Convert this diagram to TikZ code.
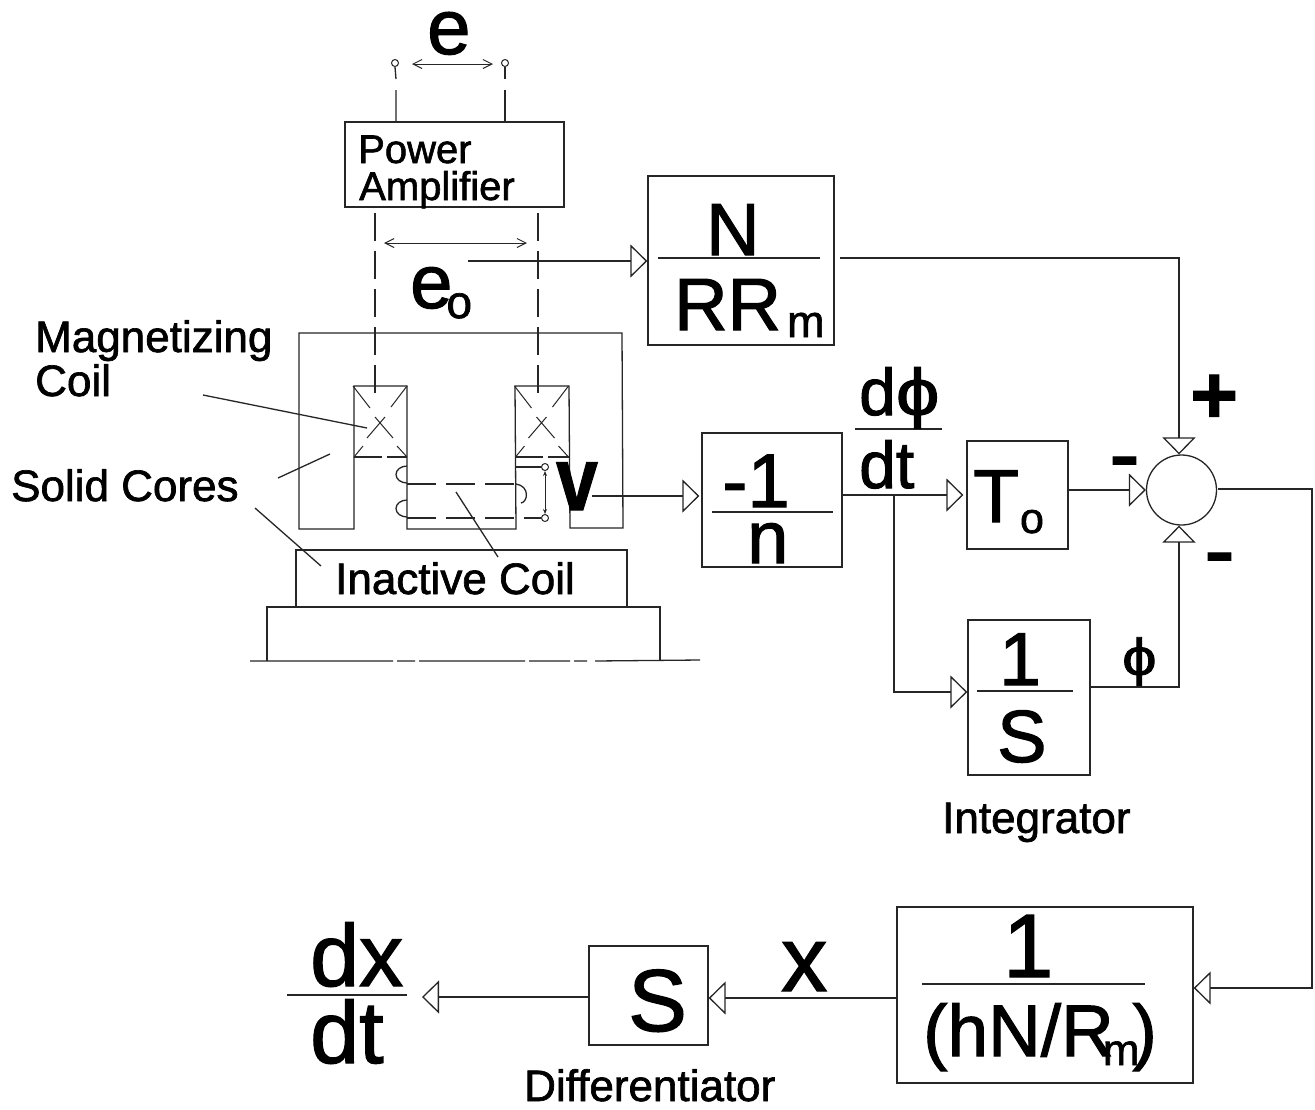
\documentclass[tikz,border=0pt]{standalone}
\usepackage{fontspec}
\setmainfont{Liberation Sans}[FakeBold=1.5]
\usetikzlibrary{arrows.meta}
\newcommand{\fz}[1]{\fontsize{#1}{#1}\selectfont}
\newcommand{\wphi}{\scalebox{1.18}[1]{ϕ}}
\tikzset{
  line/.style={line width=1.3pt,black!85},
  box/.style={line,draw,inner sep=0pt},
  conn/.style={line,-{Triangle[open,length=17pt,width=33pt,fill=white]}},
  dbl/.style={line width=1pt,black!85,{Straight Barb[length=9pt,width=9pt]}-{Straight Barb[length=9pt,width=9pt]}},
  dash1/.style={line,dash pattern=on 28pt off 10pt},
  dash2/.style={line,dash pattern=on 29pt off 10pt},
  dash3/.style={line,dash pattern=on 28pt off 5pt},
  term/.style={circle,draw,line width=1pt,black!85,inner sep=0pt,minimum size=7pt},
  txt/.style={inner sep=0pt,anchor=base west,text=black},
  lab/.style={txt,font=\fz{44}},
  big/.style={txt,font=\fz{74}},
  bar/.style={line}
}
\begin{document}
\begin{tikzpicture}[x=1pt,y=-1pt]
\useasboundingbox (0,0) rectangle (1315,1109);
\fill[white] (0,0) rectangle (1315,1109);
% blocks
\node[box,minimum width=219pt,minimum height=85pt] (pa) at (454.5,164.5) {};
\node[box,minimum width=186pt,minimum height=169pt] (nrr) at (741,260.5) {};
\node[box,minimum width=140pt,minimum height=134pt] (neg) at (772,500) {};
\node[box,minimum width=101pt,minimum height=108pt] (to) at (1017.5,495) {};
\node[box,minimum width=122pt,minimum height=155pt] (int) at (1029,697.5) {};
\node[box,minimum width=296pt,minimum height=176pt] (hn) at (1045,995) {};
\node[box,minimum width=119pt,minimum height=99pt] (sb) at (648.5,995.5) {};
\node[box,circle,minimum size=70pt] (sum) at (1181.5,490) {};
% fraction bars
\draw[bar] (658,258) -- (820,258);
\draw[bar] (712,512) -- (833,512);
\draw[bar] (977,691) -- (1073,691);
\draw[bar] (922,984) -- (1145,984);
\draw[bar] (855,429) -- (942,429);
\draw[bar] (287,995) -- (407,995);
% free-end coordinates
\coordinate (eoS) at (468,261);
\coordinate (vS) at (592,496);
\coordinate (dxE) at (422,997);
\coordinate (jn) at (894,495);
\coordinate (nS) at (840,258);
\coordinate (sumS) at (1218,489);
\coordinate (sumC) at (1312,489);
% connectors
\draw[conn] (eoS) -- (nrr.west |- eoS);
\draw[conn] (nS) -| (sum.94);
\draw[conn] (vS) -- ([xshift=-2pt]neg.west |- vS);
\draw[conn] (neg.east |- jn) -- ([xshift=-3pt]to.west |- jn);
\draw[conn] (jn) |- (int.west |- 0,692);
\draw[conn] (to.east |- 0,490) -- (sum.west |- 0,490);
\draw[conn] (int.east |- 0,687) -| (sum.266);
\draw[conn] (sumS) -- (sumC) |- (hn.east |- 0,988);
\draw[conn] (hn.west |- 0,998) -- (sb.east |- 0,998);
\draw[conn] (sb.west |- 0,997) -- (dxE);
% top terminals
\node[term] (t1) at (395,63) {};
\node[term] (t2) at (505,63) {};
\draw[line] (t1.south) -- (396,79) (396,90) -- (396,122);
\draw[line] (t2.south) -- (505,79) (505,90) -- (505,122);
\draw[dbl] (412,64) -- (493,64);
\draw[dbl] (384,243) -- (527,243);
% dashed leads
\draw[dash1] (375,213) -- (375,395);
\draw[dash1] (538,213) -- (538,395);
% core
\draw[line,line join=miter] (354,386) -- (354,529) -- (299,529) -- (299,333) -- (622,333) -- (623,528) -- (570,528) -- (569,386) -- (515,386) -- (516,529) -- (407,529) -- (407,386) -- cycle;
\draw[dash3] (354,457) -- (407,457);
\draw[dash3] (515,457) -- (569,457);
% coil crosses
\foreach \dx in {0,161.5} {
  \begin{scope}[xshift=\dx pt]
  \draw[line,line width=1pt] (353,386) -- (370,408) (407,386) -- (391,407) (354,457) -- (363,446) (407,457) -- (397,446);
  \draw[line,line width=1pt] (367,438) -- (385,417) (375,417) -- (393,438);
  \end{scope}
}
% windings
\draw[line] (407,466) arc[start angle=90,end angle=270,x radius=11pt,y radius=8.5pt];
\draw[line] (407,500) arc[start angle=90,end angle=270,x radius=11pt,y radius=8.5pt];
\draw[line] (516,484) .. controls (530,486) and (528,502) .. (521,503);
\draw[dash2] (407,484) -- (516,484);
\draw[dash2] (407,518) -- (541,518);
\node[term] (u) at (545,467) {};
\node[term] (l) at (545,518) {};
\draw[line] (515,467) -- (u.west);
\draw[line width=1pt,black!85,{Stealth[length=5pt,width=4pt]}-{Stealth[length=5pt,width=4pt]}] (u.south) -- (l.north);
% base
\draw[line] (296,607) -- (296,550) -- (627,550) -- (627,607);
\draw[line] (267,661) -- (267,607) -- (660,607) -- (660,661);
\draw[line] (250,661) -- (393,661) (397,661) -- (415,661) (419,661) -- (525,661) (529,661) -- (570,661) (574,661) -- (587,661) (595,661) -- (700,660);
% leaders
\coordinate (m1) at (203,395);
\draw[line] (m1) -- (367,428);
\draw[line] (278,478) -- (330,454);
\draw[line] (255,508) -- (321,566);
\draw[line] (456,492) -- (498,557);
% labels
\node[lab] (lmag) at (35,352) {Magnetizing};
\node[lab] (lcoil) at (35,396) {Coil};
\node[lab] (lsc) at (11,501) {Solid Cores};
\node[lab] (lic) at (335,594) {Inactive Coil};
\node[lab] (lint) at (942,833) {Integrator};
\node[lab] (ldif) at (524,1101) {Differentiator};
\node[txt,font=\fz{40}] (lpow) at (358,163) {Power};
\node[txt,font=\fz{40}] (lamp) at (359,200) {Amplifier};
\node[txt,font=\fz{78}] (le) at (427,54) {e};
\node[txt,font=\fz{76}] (leo) at (410,308) {e\kern-6pt\raisebox{-10pt}{\fz{46}o}};
\node[big] (ln) at (706,255) {N};
\node[big] (lrr) at (674,330) {RR\kern6pt\raisebox{-7pt}{\fz{45}m}};
\node[txt,font=\fz{76}] (lm1) at (722,507) {-1};
\node[big] (ln2) at (747,563) {n};
\node[txt,font=\fz{75}] (lt) at (973,522) {T\kern1pt\raisebox{-11pt}{\fz{43}o}};
\node[txt,font=\fz{75}] (l1) at (999,685) {1};
\node[big] (ls) at (997,762) {S};
\node[txt,font=\fz{52}] (lphi) at (1122,675) {\wphi};
\node[txt,font=\fz{66}] (ldp) at (859,415) {d\wphi};
\node[txt,font=\fz{66}] (ldt) at (859,488) {dt};
\node[txt,font=\fz{90}] (lh1) at (1003,977) {1};
\node[txt,font=\fz{73}] (lh) at (923,1056) {(hN/R\kern-11pt\raisebox{-9pt}{\fz{44}m}\kern-7pt)};
\node[txt,font=\fz{88}] (lbs) at (628,1031) {S};
\node[txt,font=\fz{92}] (lx) at (781,991) {x};
\node[txt,font=\fz{88}] (ldx) at (310,986) {dx};
\node[txt,font=\fz{88}] (ldt2) at (310,1063) {dt};
\node[txt,font=\bfseries\fz{90}] (lv) at (556,510) {\scalebox{0.83}[1]{v}};
\node[txt,font=\bfseries\fz{82}] (lplus) at (1190,423) {+};
\node[txt,font=\fz{92}] (lm2) at (1109,485) {-};
\node[txt,font=\fz{92}] (lm3) at (1204,581) {-};
\end{tikzpicture}
\end{document}
